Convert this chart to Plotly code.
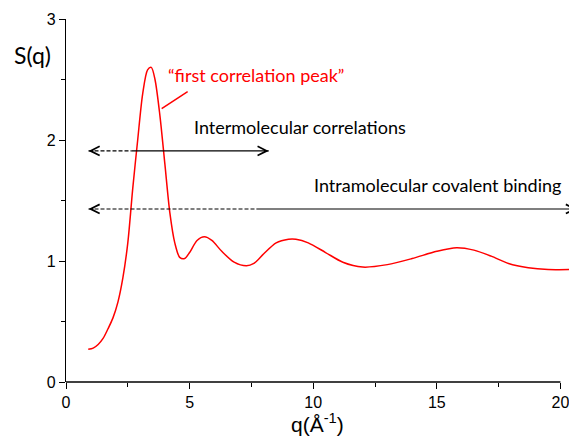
import plotly.graph_objects as go

# Structure factor S(q)
q = [0.9, 1.1, 1.3, 1.5, 1.7, 1.9, 2.1, 2.3, 2.5, 2.7, 2.9, 3.1, 3.3, 3.45, 3.6,
     3.8, 4.0, 4.2, 4.4, 4.6, 4.8, 5.0, 5.3, 5.6, 5.9, 6.3, 6.8, 7.3, 7.6, 8.0,
     8.5, 9.0, 9.3, 9.8, 10.5, 11.2, 12.0, 13.0, 14.0, 15.0, 15.8, 16.5, 17.2,
     17.9, 18.7, 19.5, 20.7]
s = [0.27, 0.28, 0.31, 0.36, 0.44, 0.53, 0.66, 0.86, 1.15, 1.6, 2.0, 2.38, 2.58,
     2.60, 2.5, 2.2, 1.8, 1.4, 1.15, 1.03, 1.02, 1.07, 1.17, 1.20, 1.17, 1.08,
     0.99, 0.96, 0.98, 1.06, 1.15, 1.18, 1.18, 1.15, 1.07, 0.99, 0.95, 0.97,
     1.02, 1.08, 1.11, 1.09, 1.04, 0.98, 0.945, 0.93, 0.93]

x_ticks = [0, 5, 10, 15, 20]
y_ticks = [0, 1, 2, 3]

# double arrows: [y level, left tip, end of dashed part, right tip]
inter_arrow = [1.91, 0.91, 2.65, 8.2]
intra_arrow = [1.43, 0.91, 7.7, 20.67]

fig = go.Figure()
fig.add_trace(go.Scatter(
    x=q, y=s, mode='lines',
    line=dict(color='#ff0000', width=1.5, shape='spline', smoothing=0.8),
    hoverinfo='skip', showlegend=False
))

shapes = [
    # x axis line stops at 20 while the curve runs on
    dict(type='line', xref='x', yref='paper', x0=0, x1=20, y0=0, y1=0,
         line=dict(color='black', width=1.3)),
    # pointer to the first peak
    dict(type='line', xref='x', yref='y', x0=3.87, y0=2.26, x1=4.92, y1=2.40,
         line=dict(color='#ff0000', width=1.5)),
]
annotations = []
for yv, left, mid, right in [inter_arrow, intra_arrow]:
    shapes.append(dict(type='line', xref='x', yref='y', x0=left, x1=mid, y0=yv, y1=yv,
                       line=dict(color='black', width=1.1, dash='4px,2px')))
    shapes.append(dict(type='line', xref='x', yref='y', x0=mid, x1=right, y0=yv, y1=yv,
                       line=dict(color='black', width=1.1)))
    for tip, tail in [(left, left + 0.25), (right, right - 0.25)]:
        annotations.append(dict(x=tip, y=yv, ax=tail, ay=yv, axref='x', ayref='y',
                                xref='x', yref='y', text='', showarrow=True,
                                arrowhead=5, arrowsize=2.0, arrowwidth=0.9,
                                arrowcolor='black'))

label_font = dict(family='Lato', size=18, color='black')
annotations += [
    dict(x=7.67, y=2.54, xref='x', yref='y', text='\u201cfirst correlation peak\u201d',
         showarrow=False, xanchor='center', yanchor='middle',
         font=dict(family='Lato', size=18, color='#ff0000')),
    dict(x=9.45, y=2.11, xref='x', yref='y', text='Intermolecular correlations',
         showarrow=False, xanchor='center', yanchor='middle', font=label_font),
    dict(x=15.04, y=1.63, xref='x', yref='y', text='Intramolecular covalent binding',
         showarrow=False, xanchor='center', yanchor='middle', font=label_font),
    dict(x=-0.066, y=0.9, xref='paper', yref='paper', text='S(q)', showarrow=False,
         xanchor='center', yanchor='middle',
         font=dict(family='Lato', size=23, color='black')),
    dict(x=0.493, y=-0.113, xref='paper', yref='paper', text='q(\u00c5<sup>-1</sup>)',
         showarrow=False, xanchor='center', yanchor='middle',
         font=dict(family='Liberation Sans', size=21, color='black')),
]

tick_font = dict(family='Liberation Sans', size=16, color='black')
# the page puts the figure 8px in from the top-left corner, so the figure is
# sized and margined to land the plot area where the reference has it
fig.update_layout(
    width=569, height=430,
    margin=dict(l=58, r=0, t=11, b=56),
    plot_bgcolor='white', paper_bgcolor='white',
    showlegend=False,
    shapes=shapes,
    annotations=annotations,
    xaxis=dict(range=[0, 20.67], tickvals=x_ticks, ticks='outside', ticklen=6,
               tickwidth=1.3, tickcolor='black', showline=False, showgrid=False,
               zeroline=False, tickfont=tick_font, automargin=False,
               minor=dict(dtick=2.5, tick0=0, ticks='outside', ticklen=4,
                          tickwidth=1.2, tickcolor='black', showgrid=False)),
    yaxis=dict(range=[0, 3], tickvals=y_ticks, ticks='outside', ticklen=6,
               tickwidth=1.3, tickcolor='black', showline=True, linecolor='black',
               linewidth=1.3, showgrid=False, zeroline=False, tickfont=tick_font,
               automargin=False,
               minor=dict(dtick=0.5, tick0=0, ticks='outside', ticklen=4,
                          tickwidth=1.2, tickcolor='black', showgrid=False)),
)

fig.write_html("out.html")
